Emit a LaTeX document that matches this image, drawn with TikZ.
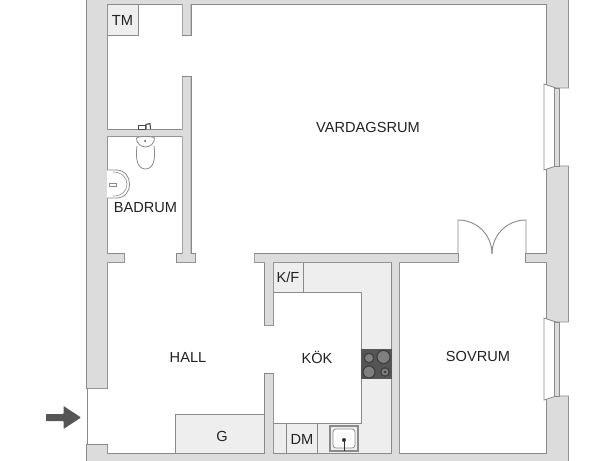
\documentclass[tikz,border=0pt]{standalone}
\usepackage{fontspec}
\setmainfont{Liberation Sans}
\definecolor{wallgray}{HTML}{DCDCDC}
\definecolor{wallline}{HTML}{8A8A8A}
\definecolor{fixture}{HTML}{EEEEEE}
\definecolor{hobdark}{HTML}{555555}
\definecolor{labeltext}{HTML}{222222}
\newcommand{\wallpath}{
  (87,-5) rectangle (107,388)
  (87,445) rectangle (107,465)
  (87,454) rectangle (568,465)
  (87,-5) rectangle (568,4)
  (547,-5) rectangle (568,88)
  (547,166) rectangle (568,322)
  (547,396) rectangle (568,465)
  (182.5,-5) rectangle (190.5,35)
  (182.5,77) rectangle (190.5,258)
  (107,130) rectangle (186,136)
  (107,254) rectangle (124,262)
  (177,254) rectangle (195,262)
  (254.5,254) rectangle (458,262)
  (526,254) rectangle (550,262)
  (265,258) rectangle (273,325)
  (265,374) rectangle (273,460)
  (392,258) rectangle (399,460)
}
\begin{document}
\begin{tikzpicture}[x=1pt,y=-1pt]
      \tikzstyle{room}=[font=\fontsize{14.6}{16}\selectfont,text=labeltext,inner sep=0pt];
      \tikzstyle{unit}=[fill=fixture,draw=wallline,line width=.9pt];
      \tikzstyle{fitting}=[draw=wallline,line width=.8pt,fill=white];
      \tikzstyle{burner}=[draw=black!75,line width=1.2pt,fill=black!50];
      \useasboundingbox (0,0) rectangle (615,460);
      \fill[white](0,0) rectangle (615,460);
      % kitchen counter and closets
      \fill[fixture](273,262) rectangle (392,454);
      \fill[white](273,292) rectangle (361,423);
      \draw[wallline,line width=.9pt](273,292)--(361,292)--(361,423)--(273,423);
      \draw[unit](273,262) rectangle (303.5,292);
      \draw[unit](286.5,423) rectangle (317.5,454);
      \fill[fixture](175.5,414) rectangle (265,454);
      \draw[wallline,line width=.9pt](175.5,454)--(175.5,414)--(265,414);
      \draw[unit](107,4) rectangle (138,35);
      % walls
      \draw[wallline,line width=2pt]\wallpath;
      \fill[wallgray]\wallpath;
      \draw[wallline,line width=1pt](87,388)--(87,445);
      % windows
      \foreach \ya/\yb in {88/166,322/396}{
        \fill[white](544,\ya-4)--(556,\ya)--(569,\ya)--(569,\yb)--(556,\yb)--(544,\yb+4)--cycle;
        \draw[wallline,line width=.8pt](569,\ya)--(556,\ya)--(544,\ya-4)--(544,\yb+4)--(556,\yb)--(569,\yb);
        \draw[wallline,line width=.8pt,fill=wallgray](554.5,\ya) rectangle (559.5,\yb);
      }
      % balcony door
      \draw[wallline,line width=.9pt](458,254)--(458,220) .. controls (477,220) and (492,235) .. (492,254);
      \draw[wallline,line width=.9pt](526,254)--(526,220) .. controls (507,220) and (492,235) .. (492,254);
      % hob
      \fill[hobdark](361,349) rectangle (392,379);
      \draw[burner](369,358) circle(4.8);
      \draw[burner](383.5,357) circle(6.6);
      \draw[burner](369,372) circle(6);
      \draw[burner](385,372) circle(4.2);
      \fill[black!75](385,372) circle(1.5);
      % sink
      \draw[fill=fixture,draw=wallline,line width=1.2pt](330,426) rectangle (358,451);
      \draw[fill=white,draw=wallline,line width=.7pt,rounded corners=3pt](333,429) rectangle (355,448);
      \fill[black!80](344,440) circle(2);
      \draw[black!80,line width=.9pt](344,440)--(344,451);
      % toilet
      \draw[fitting](137,146) .. controls (135,160) and (138,169) .. (145.5,169) .. controls (153,169) and (156,160) .. (154,146);
      \draw[fitting](136.5,138) .. controls (138,136) and (153,136) .. (154.5,138) .. controls (155,143) and (150,147) .. (145.5,147) .. controls (141,147) and (136,143) .. (136.5,138);
      \fill[black!70](145,141) circle(1);
      \draw[black!70,line width=.7pt,fill=white](138,125) rectangle (145,129);
      \draw[black!70,line width=1.1pt](146,129)--(146,124.5)--(150,123.5)--(150.5,129);
      % basin
      \draw[fitting](107,170)--(116,170) .. controls (125,170) and (129.5,177) .. (129.5,184) .. controls (129.5,192) and (125,198) .. (116,198)--(107,198);
      \draw[wallline,line width=.6pt](113,172) .. controls (122,172) and (127,178) .. (127,184) .. controls (127,191) and (122,196) .. (113,196);
      \draw[fitting](109,183) rectangle (116,186);
      % entrance arrow
      \fill[hobdark,rounded corners=.6pt](46,414)--(63.5,414)--(63.5,406)--(81,417.5)--(63.5,429)--(63.5,421)--(46,421)--cycle;
      % labels
      \node[room](vardagsrum) at (368,127.5) {VARDAGSRUM};
      \node[room](badrum) at (145.5,208) {BADRUM};
      \node[room](hall) at (188,357) {HALL};
      \node[room](kok) at (317,357) {KÖK};
      \node[room](sovrum) at (478,356.5) {SOVRUM};
      \node[room](tm) at (122.5,20) {TM};
      \node[room](kf) at (288,277.5) {K/F};
      \node[room](dm) at (302,439) {DM};
      \node[room](g) at (222,436.5) {G};
    \end{tikzpicture}
\end{document}
